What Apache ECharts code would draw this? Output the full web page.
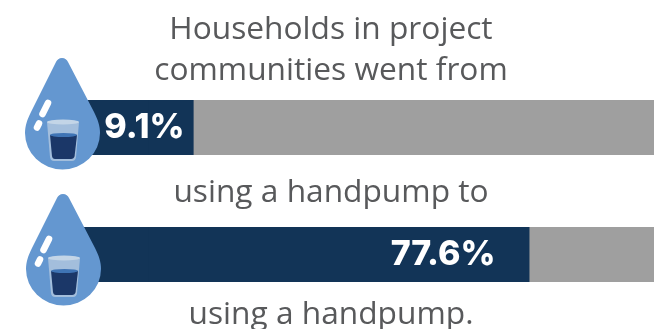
<!DOCTYPE html>
<html>
<head>
<meta charset="utf-8">
<style>html,body{margin:0;padding:0;background:#fff}#chart{width:655px;height:329px}</style>
<script src="https://cdn.jsdelivr.net/npm/echarts@6/dist/echarts.min.js"></script>
</head>
<body>
<div id="chart"></div>
<script>
// Share of households using a handpump, before and after the project
const categories = ['Before', 'After'];
const handpumpShare = [9.1, 77.6];
const labelGap = [9, 34];
// Short dark stub that runs behind the water drop icons
const iconLeadIn = [-16, -16];
const captions = [
  ['Households in project', 30],
  ['communities went from', 71],
  ['using a handpump to', 193],
  ['using a handpump.', 315]
];

const NAVY = '#123457', GREY = '#9f9f9f', TEXT = '#58595b';

function ellipsePath(cx, cy, rx, ry) {
  return `M${cx - rx} ${cy}A${rx} ${ry} 0 1 0 ${cx + rx} ${cy}A${rx} ${ry} 0 1 0 ${cx - rx} ${cy}Z`;
}

// Icon outlines, registered as named shapes for the graphic component
const iconShapes = {
  dropBody: 'M62 58C65 58 67 60 68 62L94 112C98 120 100 126 100 133A37.5 36.5 0 0 1 25 133C25 126 27 120 31 112L56 62C57 60 59 58 62 58Z',
  glassBody: 'M47 122L79 122L76 157Q75.5 161 72 161L54 161Q50.5 161 50 157Z',
  glassRim: ellipsePath(63, 122, 16, 2.5),
  waterBody: 'M50 135L77 135L74.6 156Q74 159 71 159L55 159Q52.4 159 52 156Z',
  waterTop: ellipsePath(63.5, 135, 13.5, 2)
};
Object.keys(iconShapes).forEach(name => {
  echarts.graphic.registerShape(name, echarts.graphic.extendPath(iconShapes[name]));
});

function dropIcon(dx, dy) {
  const parts = [
    { type: 'dropBody', style: { fill: '#6497d0' } },
    { type: 'line', shape: { x1: 48, y1: 103, x2: 42.5, y2: 114 }, style: { stroke: '#fff', lineWidth: 6.5, lineCap: 'round' } },
    { type: 'line', shape: { x1: 39, y1: 123.5, x2: 37, y2: 127.5 }, style: { stroke: '#fff', lineWidth: 6.5, lineCap: 'round' } },
    { type: 'glassBody', style: { fill: '#a3bedc' } },
    { type: 'glassRim', style: { fill: '#c3d5e7' } },
    { type: 'waterBody', style: { fill: '#1b3768' } },
    { type: 'waterTop', style: { fill: '#3f74b5' } }
  ];
  return { type: 'group', x: dx, y: dy, children: parts.map(p => Object.assign(p, { z: 20 })) };
}

const chart = echarts.init(document.getElementById('chart'), null, { renderer: 'canvas' });
chart.setOption({
  animation: false,
  backgroundColor: '#fff',
  grid: { left: 70.55, right: 1, top: 64, bottom: 11 },
  xAxis: { type: 'value', min: -16, max: 103, show: false },
  yAxis: { type: 'category', data: categories, inverse: true, show: false },
  series: [
    {
      name: 'Lead-in', type: 'bar', data: iconLeadIn, barWidth: 55, barGap: '-100%',
      itemStyle: { color: NAVY },
      showBackground: true, backgroundStyle: { color: GREY }
    },
    {
      name: 'Households using a handpump', type: 'bar', barWidth: 55, barGap: '-100%',
      itemStyle: { color: NAVY },
      data: handpumpShare.map((v, i) => ({
        value: v,
        label: {
          show: true, position: 'insideRight', distance: labelGap[i],
          formatter: '{c}%', color: '#fff', fontFamily: 'Inter', fontWeight: 800, fontSize: 34
        }
      }))
    }
  ],
  graphic: captions.map(([text, y]) => ({
    type: 'text', x: 331, y, z: 10,
    style: { text, fill: TEXT, fontFamily: 'Open Sans', fontSize: 31.7, textAlign: 'center', textVerticalAlign: 'middle' }
  })).concat([dropIcon(0, 0), dropIcon(1, 136)])
});
</script>
</body>
</html>
